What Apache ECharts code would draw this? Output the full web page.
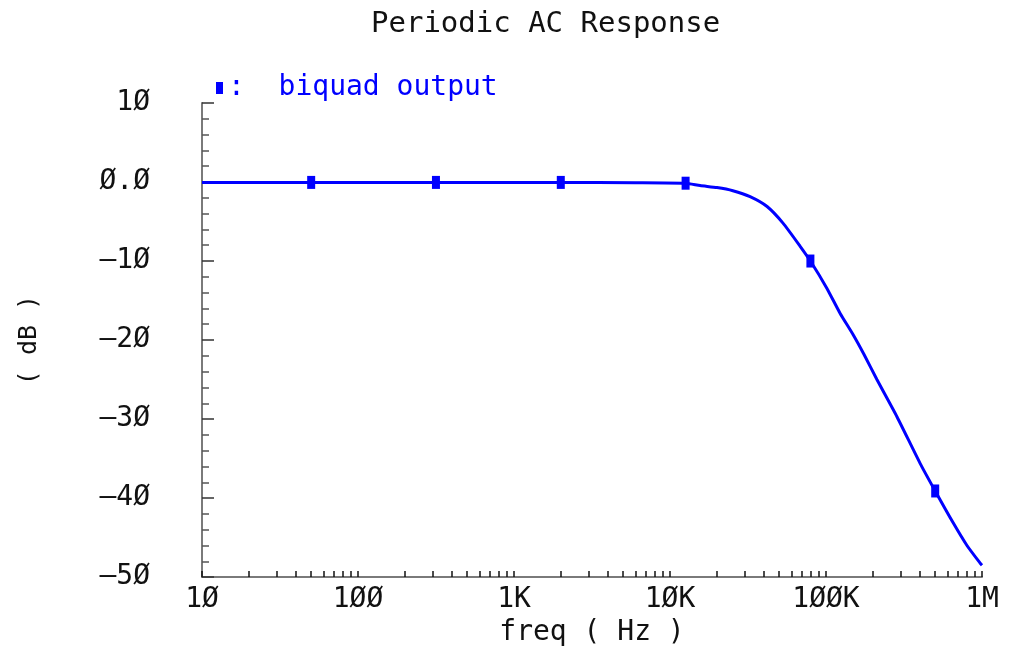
<!DOCTYPE html>
<html>
<head>
<meta charset="utf-8">
<script src="https://cdn.jsdelivr.net/npm/echarts@6/dist/echarts.min.js"></script>
<style>
  html, body { margin: 0; padding: 0; background: #ffffff; }
  #chart { width: 1010px; height: 652px; }
</style>
</head>
<body>
<div id="chart"></div>
<script>
// Frequency response of the biquad output (PAC analysis)
const freqHz = [10, 50.1, 316, 1995, 6000, 12589, 15600, 20000, 25300, 32600, 41900, 53000, 68100,
                79433, 101000, 123000, 149000, 175000, 212000, 285000, 401000, 501187, 652000,
                801000, 970000, 1000000];
const gainDb = [-0.05, -0.05, -0.05, -0.05, -0.08, -0.15, -0.45, -0.7, -1.1, -1.85, -3.1, -5.2, -8.1,
                -10.0, -13.4, -16.6, -19.3, -21.8, -25.0, -29.7, -35.6, -39.1, -43.1,
                -46.0, -48.2, -48.5];
// points along the trace that carry the square marker
const markerIdx = [1, 2, 3, 5, 13, 21];

const xDecades = [10, 100, 1000, 10000, 100000, 1000000];
const xTickLabels = ['1Ø', '1ØØ', '1K', '1ØK', '1ØØK', '1M'];
const yTickValues = [-50, -40, -30, -20, -10, 0, 10];
const yTickLabels = ['—5Ø', '—4Ø', '—3Ø', '—2Ø', '—1Ø', 'Ø.Ø', '1Ø'];

// tick marks at every 1..9 x 10^k between the decade labels
const xTickValues = [];
xDecades.forEach(function (d, i) {
  if (i === xDecades.length - 1) { xTickValues.push(d); return; }
  for (let m = 1; m <= 9; m++) xTickValues.push(d * m);
});

const FONT = 'DejaVu Sans Mono';
const BLUE = '#0000ff';

const chart = echarts.init(document.getElementById('chart'), null, { renderer: 'canvas' });

const lineData = freqHz.map(function (f, i) { return [f, gainDb[i]]; });
const markerData = markerIdx.map(function (i) { return [freqHz[i], gainDb[i]]; });

chart.setOption({
  animation: false,
  backgroundColor: '#ffffff',
  title: {
    text: 'Periodic AC Response',
    left: 366,
    top: 5,
    textStyle: { fontFamily: FONT, fontSize: 29, fontWeight: 'normal', color: '#111111' }
  },
  legend: {
    data: [{ name: 'biquad output', icon: 'rect' }],
    left: 211,
    top: 67,
    itemWidth: 7,
    itemHeight: 12,
    formatter: function (name) { return ':  ' + name; },
    textStyle: { fontFamily: FONT, fontSize: 28, color: BLUE, lineHeight: 32 }
  },
  grid: { left: 202, right: 28, top: 103, bottom: 71 },
  xAxis: {
    type: 'log',
    logBase: 10,
    min: 10,
    max: 1000000,
    name: 'freq ( Hz )',
    nameLocation: 'middle',
    nameGap: 36,
    nameTextStyle: { fontFamily: FONT, fontSize: 28, color: '#111111' },
    axisLine: { show: true, onZero: false, lineStyle: { color: '#7a7a7a', width: 2 } },
    axisTick: {
      show: true, inside: true, length: 6,
      customValues: xTickValues,
      lineStyle: { color: '#111111', width: 1.5 }
    },
    axisLabel: {
      margin: 9,
      fontFamily: FONT, fontSize: 28, color: '#111111',
      formatter: function (v) {
        const k = Math.round(Math.log10(v)) - 1;
        return xTickLabels[k] !== undefined ? xTickLabels[k] : '';
      }
    },
    splitLine: { show: false },
    minorTick: { show: false }
  },
  yAxis: {
    type: 'value',
    min: -50,
    max: 10,
    interval: 10,
    name: '( dB )',
    nameLocation: 'middle',
    nameRotate: 90,
    nameGap: 160,
    nameTextStyle: { fontFamily: FONT, fontSize: 25, color: '#111111' },
    axisLine: { show: true, onZero: false, lineStyle: { color: '#7a7a7a', width: 2 } },
    axisTick: { show: true, inside: true, length: 12, lineStyle: { color: '#333333', width: 1.5 } },
    minorTick: { show: true, splitNumber: 5, length: 7, lineStyle: { color: '#555555', width: 1.5 } },
    axisLabel: {
      margin: 52,
      padding: [0, 0, 16, 0],
      fontFamily: FONT, fontSize: 28, color: '#111111',
      formatter: function (v) {
        const k = yTickValues.indexOf(v);
        return k >= 0 ? yTickLabels[k] : '';
      }
    },
    splitLine: { show: false }
  },
  series: [
    {
      name: 'biquad output',
      type: 'line',
      data: lineData,
      symbol: 'none',
      smooth: 0.2,
      lineStyle: { color: BLUE, width: 3 },
      itemStyle: { color: BLUE },
      z: 3
    },
    {
      name: 'biquad output markers',
      type: 'scatter',
      data: markerData,
      symbol: 'rect',
      symbolSize: [8, 13],
      itemStyle: { color: BLUE, opacity: 1 },
      z: 4
    }
  ]
});
</script>
</body>
</html>
